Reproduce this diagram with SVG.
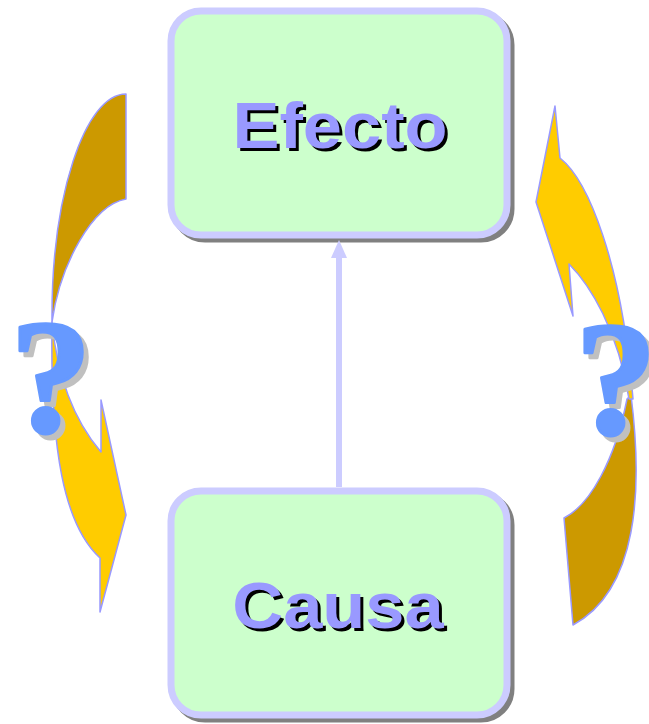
<svg xmlns="http://www.w3.org/2000/svg" width="649" height="724" viewBox="0 0 649 724">
<style>
.box{fill:#CCFFCC;stroke:#CCCCFF;stroke-width:7}
.boxsh{fill:#808080;stroke:#808080;stroke-width:7}
.lbl{font-family:"Liberation Sans",Arial,sans-serif;font-weight:bold;font-size:64px;text-anchor:middle}
.lbl-sh{fill:#000000}
.lbl-fg{fill:#9999FF}
.back{fill:#CC9900;stroke:#9999FF;stroke-width:1.5;stroke-linejoin:round}
.front{fill:#FFCC00;stroke:#9999FF;stroke-width:1.5;stroke-linejoin:round}
.q{font-family:"Liberation Serif","Times New Roman",serif;font-weight:bold;font-size:164px;text-anchor:middle;stroke-width:3;stroke-linejoin:round}
.q-sh{fill:#C0C0C0;stroke:#C0C0C0}
.q-fg{fill:#6699FF;stroke:#6699FF}
.conn{stroke:#CCCCFF;stroke-width:6;fill:none}
</style>
<rect width="649" height="724" fill="#FFFFFF"/>
<g id="arrow-left">
<path class="back" d="M126,94 L126,199 C92,205 60,265 52,322 C51,196 85,94 126,94 Z"/>
<path class="front" d="M52,322 C50,450 64,525 100,558 L100,612 L126,515 L101,400 L101,452 C78,425 58,385 52,322 Z"/>
</g>
<g id="arrow-right">
<path class="back" d="M631,395 C643,490 638,590 573,625 L564,518 C590,505 615,460 627,399 Z"/>
<path class="front" d="M560,158 L555,106 L536,202 L573,316 L569,264 C590,285 618,330 629,399 L633,399 C622,262 588,180 560,158 Z"/>
</g>
<g id="question-left">
<text class="q q-sh" x="56" y="437">?</text>
<text class="q q-fg" x="51" y="432">?</text>
</g>
<g id="question-right">
<text class="q q-sh" x="621" y="439">?</text>
<text class="q q-fg" x="616" y="434">?</text>
</g>
<g id="node-efecto">
<rect class="boxsh" x="175" y="15" width="336" height="224" rx="30"/>
<rect class="box" x="171" y="11" width="336" height="224" rx="30"/>
<text class="lbl lbl-sh" transform="translate(343,151) scale(1.1,1)">Efecto</text>
<text class="lbl lbl-fg" transform="translate(340,148) scale(1.1,1)">Efecto</text>
</g>
<g id="node-causa">
<rect class="boxsh" x="175" y="495" width="336" height="224" rx="30"/>
<rect class="box" x="171" y="491" width="336" height="224" rx="30"/>
<text class="lbl lbl-sh" transform="translate(341,631) scale(1.1,1)">Causa</text>
<text class="lbl lbl-fg" transform="translate(338,628) scale(1.1,1)">Causa</text>
</g>
<g id="connectors">
<line class="conn" x1="339" y1="487" x2="339" y2="256"/>
<polygon points="339,240 331,258 347,258" fill="#CCCCFF"/>
</g>
</svg>
